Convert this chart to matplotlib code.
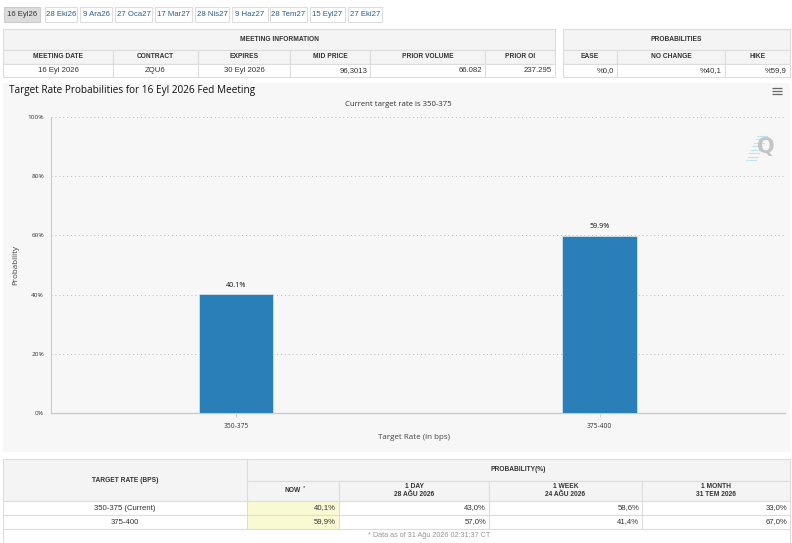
import matplotlib
matplotlib.use("Agg")
import matplotlib.pyplot as plt
from matplotlib.patches import Rectangle

# ---------------- data ----------------
tabs = ["16 Eyl26", "28 Eki26", "9 Ara26", "27 Oca27", "17 Mar27", "28 Nis27",
        "9 Haz27", "28 Tem27", "15 Eyl27", "27 Eki27"]
meeting_headers = ["MEETING DATE", "CONTRACT", "EXPIRES", "MID PRICE", "PRIOR VOLUME", "PRIOR OI"]
meeting_values = ["16 Eyl 2026", "ZQU6", "30 Eyl 2026", "96,3013", "66.082", "237.295"]
prob_headers = ["EASE", "NO CHANGE", "HIKE"]
prob_values = ["%0,0", "%40,1", "%59,9"]

categories = ["350-375", "375-400"]
probabilities = [40.1, 59.9]
y_ticks = [0, 20, 40, 60, 80, 100]

hist_rows = ["350-375 (Current)", "375-400"]
hist_cols = ["NOW", "1 DAY\n28 AĞU 2026", "1 WEEK\n24 AĞU 2026", "1 MONTH\n31 TEM 2026"]
hist_now = ["40,1%", "59,9%"]
hist_1day = ["43,0%", "57,0%"]
hist_1week = ["58,6%", "41,4%"]
hist_1month = ["33,0%", "67,0%"]

# ---------------- figure ----------------
W, H = 792, 543
fig = plt.figure(figsize=(W / 100, H / 100), dpi=100)
fig.patch.set_facecolor("white")
ov = fig.add_axes([0, 0, 1, 1], zorder=0)
ov.set_xlim(0, W)
ov.set_ylim(H, 0)
ov.axis("off")

TF = "Liberation Sans"
CF = "Open Sans"
BORDER = "#dddddd"
HDRBG = "#f4f4f4"
TXT = "#333333"


def rect(x0, y0, x1, y1, fc="none", ec=BORDER, lw=0.8, z=1):
    ov.add_patch(Rectangle((x0, y0), x1 - x0, y1 - y0, facecolor=fc, edgecolor=ec, lw=lw, zorder=z))


def txt(x, y, s, size=5.6, ha="center", weight="normal", color=TXT, family=TF, z=3, **kw):
    ov.text(x, y, s, fontsize=size, ha=ha, va="center", fontweight=weight, color=color,
            family=family, zorder=z, **kw)


# tabs
tab_x = [(4, 40), (45, 77), (80, 112), (115, 152), (155, 192), (195, 229), (232, 268),
         (270, 307), (310, 345), (348, 382)]
for i, (lab, (a, b)) in enumerate(zip(tabs, tab_x)):
    rect(a, 7, b, 22, fc="#dcdcdc" if i == 0 else "white", ec="#cccccc" if i == 0 else BORDER)
    txt((a + b) / 2, 14.5, lab, size=5.6, color="#333333" if i == 0 else "#2a5d8a")

# meeting information table
mcols = [3, 113, 198, 290, 370, 485, 555]
rect(3, 29, 555, 50, fc=HDRBG)
txt(279, 39.5, "MEETING INFORMATION", size=4.8, weight="bold")
for i in range(6):
    rect(mcols[i], 50, mcols[i + 1], 63.5, fc=HDRBG)
    rect(mcols[i], 63.5, mcols[i + 1], 77, fc="white")
    txt((mcols[i] + mcols[i + 1]) / 2, 56.8, meeting_headers[i], size=4.8, weight="bold")
    if i < 3:
        txt((mcols[i] + mcols[i + 1]) / 2, 70.2, meeting_values[i], size=5.6)
    else:
        txt(mcols[i + 1] - 3, 70.2, meeting_values[i], size=5.6, ha="right")

# probabilities table
pcols = [563, 617, 725, 790]
rect(563, 29, 790, 50, fc=HDRBG)
txt(676, 39.5, "PROBABILITIES", size=4.8, weight="bold")
for i in range(3):
    rect(pcols[i], 50, pcols[i + 1], 63.5, fc=HDRBG)
    rect(pcols[i], 63.5, pcols[i + 1], 77, fc="white")
    txt((pcols[i] + pcols[i + 1]) / 2, 56.8, prob_headers[i], size=4.8, weight="bold")
    txt(pcols[i + 1] - 3, 70.2, prob_values[i], size=5.6, ha="right")

# chart panel background
rect(3, 83, 790, 452, fc="#f7f7f7", ec="none", z=0)
ov.text(9, 91, "Target Rate Probabilities for 16 Eyl 2026 Fed Meeting", fontsize=7.2,
        ha="left", va="center", color="#111111", family=CF)
ov.text(398, 104.5, "Current target rate is 350-375", fontsize=5.6, ha="center", va="center",
        color="#333333", family=CF)
for dy in (-3, 0, 3):
    ov.plot([772, 782], [91 + dy, 91 + dy], color="#666666", lw=0.9, zorder=3,
            solid_capstyle="butt")
ov.text(766, 147, "Q", fontsize=15, fontweight="bold", color="#c4c4c4", ha="center",
        va="center", family="DejaVu Sans", zorder=2)
for k in range(8):
    ov.plot([746 + k * 1.6, 756 + k * 1.6], [160 - k * 3.5, 160 - k * 3.5], color="#bfe3f3",
            lw=0.8, zorder=1)
ov.text(16, 265, "Probability", fontsize=5.8, rotation=90, ha="center", va="center",
        color="#444444", family=CF)
ov.text(414, 437.5, "Target Rate (in bps)", fontsize=5.8, ha="center", va="center",
        color="#444444", family=CF)

# bar chart axes
x0, x1, yt, yb = 51, 785, 117, 413
ax = fig.add_axes([x0 / W, 1 - yb / H, (x1 - x0) / W, (yb - yt) / H], zorder=2)
ax.set_facecolor("none")
pos = list(range(len(categories)))
bars = ax.bar(pos, probabilities, width=0.205, color="#2a7fb8", edgecolor="#f0f0f0",
              linewidth=0.4, zorder=3)
ax.set_xlim(-0.509, len(categories) - 1 + 0.51)
ax.set_ylim(0, 100)
ax.set_yticks(y_ticks)
ax.set_yticklabels([f"{v}%" for v in y_ticks], fontsize=4.6, color="#333333", family=CF)
ax.set_xticks(pos)
ax.set_xticklabels(categories, fontsize=4.8, color="#333333", family=CF)
ax.tick_params(axis="y", length=0, pad=5)
ax.tick_params(axis="x", length=3, width=0.6, color="#cccccc", pad=4)
ax.yaxis.grid(True, linestyle=(0, (1, 3)), color="#bbbbbb", lw=0.7, zorder=0)
for s in ("top", "right"):
    ax.spines[s].set_visible(False)
ax.spines["left"].set_color("#cccccc")
ax.spines["left"].set_linewidth(0.8)
ax.spines["bottom"].set_color("#cccccc")
ax.spines["bottom"].set_linewidth(1.0)
for b, v in zip(bars, probabilities):
    ax.annotate(f"{v:.1f}%", (b.get_x() + b.get_width() / 2, v), xytext=(0, 4),
                textcoords="offset points", ha="center", va="bottom", fontsize=5.2,
                color="#111111", family=CF)

# history table
hx = [3, 247, 339, 489, 642, 790]
rect(3, 459, 247, 501, fc=HDRBG)
txt(125, 480, "TARGET RATE (BPS)", size=4.8, weight="bold")
rect(247, 459, 790, 480.5, fc=HDRBG)
txt(518, 469.5, "PROBABILITY(%)", size=4.8, weight="bold")
for i in range(4):
    rect(hx[i + 1], 480.5, hx[i + 2], 501, fc=HDRBG)
    lab = hist_cols[i]
    if i == 0:
        txt((hx[1] + hx[2]) / 2, 490.5, lab, size=4.8, weight="bold")
        txt((hx[1] + hx[2]) / 2 + 11, 487.5, "*", size=4.2)
    else:
        txt((hx[i + 1] + hx[i + 2]) / 2, 490.5, lab, size=4.8, weight="bold", linespacing=1.1)
hist_vals = [hist_now, hist_1day, hist_1week, hist_1month]
ry = [(501, 515), (515, 529)]
for r, (a, b) in enumerate(ry):
    rect(3, a, 247, b, fc="white")
    txt(125, (a + b) / 2, hist_rows[r], size=5.6)
    for i in range(4):
        rect(hx[i + 1], a, hx[i + 2], b, fc="#fafad2" if i == 0 else "white")
        txt(hx[i + 2] - 3, (a + b) / 2, hist_vals[i][r], size=5.6, ha="right")
rect(3, 529, 790, 545, fc="white")
txt(429, 535.5, "* Data as of 31 Ağu 2026 02:31:37 CT", size=5.2, color="#999999")

fig.savefig("out.png", dpi=100, facecolor="white")
